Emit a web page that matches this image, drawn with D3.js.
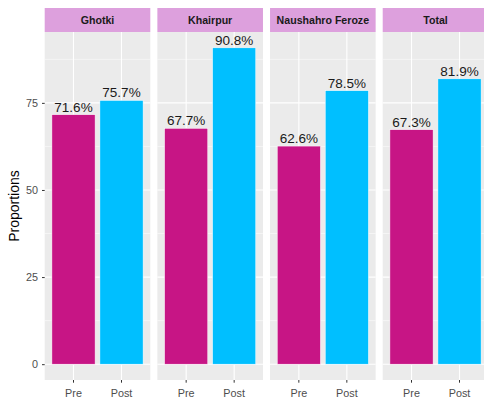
<html>
  <head>
    <meta charset="utf-8">
    <script src="https://d3js.org/d3.v7.min.js"></script>
    <style>
      body { margin: 0; background: #fff; }
      text { font-family: "Liberation Sans", Arial, sans-serif; }
    </style>
  </head>
  <body>
    <div id="my_dataviz"></div>
  </body>

  <script>
    // data
    const sites = ["Ghotki", "Khairpur", "Naushahro Feroze", "Total"];
    const periods = ["Pre", "Post"];
    const preValues = [71.6, 67.7, 62.6, 67.3];
    const postValues = [75.7, 90.8, 78.5, 81.9];
    const yTicks = [0, 25, 50, 75];
    const yMinor = [12.5, 37.5, 62.5, 87.5];
    const colors = {Pre: "#C71585", Post: "#00BFFF"};

    const width = 484, height = 403;
    const panelTop = 32, panelBottom = 380, stripTop = 8;

    const rows = [];
    sites.forEach((s, i) => {
      rows.push({site: s, period: "Pre", value: preValues[i]});
      rows.push({site: s, period: "Post", value: postValues[i]});
    });

    const svg = d3.select("#my_dataviz")
      .append("svg")
        .attr("width", width)
        .attr("height", height);

    // facet positions
    const fx = d3.scaleBand()
      .domain(sites)
      .range([44.7, 44.7 + 4 * 105.6 + 3 * 7.07])
      .paddingInner(7.07 / 112.67);
    const pw = fx.bandwidth();

    // y: ggplot default expansion around 0..max
    const maxV = d3.max(rows, d => d.value);
    const y = d3.scaleLinear()
      .domain([-0.05 * maxV, maxV * 1.05])
      .range([panelBottom, panelTop]);

    const x = d3.scaleBand()
      .domain(periods)
      .range([0, pw])
      .paddingInner(0.1)
      .paddingOuter(0.15);

    const panels = svg.selectAll("g.panel")
      .data(sites)
      .join("g")
        .attr("class", "panel")
        .attr("transform", d => `translate(${fx(d)},0)`);

    // background
    panels.append("rect")
      .attr("x", 0).attr("y", panelTop)
      .attr("width", pw).attr("height", panelBottom - panelTop)
      .attr("fill", "#EBEBEB");

    // minor grid
    panels.selectAll("line.minor")
      .data(yMinor)
      .join("line")
        .attr("x1", 0).attr("x2", pw)
        .attr("y1", d => y(d)).attr("y2", d => y(d))
        .attr("stroke", "#fff").attr("stroke-width", 0.5);

    // major grid
    panels.selectAll("line.major")
      .data(yTicks)
      .join("line")
        .attr("x1", 0).attr("x2", pw)
        .attr("y1", d => y(d)).attr("y2", d => y(d))
        .attr("stroke", "#fff").attr("stroke-width", 1.1);

    panels.selectAll("line.vgrid")
      .data(periods)
      .join("line")
        .attr("x1", d => x(d) + x.bandwidth() / 2)
        .attr("x2", d => x(d) + x.bandwidth() / 2)
        .attr("y1", panelTop).attr("y2", panelBottom)
        .attr("stroke", "#fff").attr("stroke-width", 1.1);

    // strips
    panels.append("rect")
      .attr("x", 0).attr("y", stripTop)
      .attr("width", pw).attr("height", panelTop - stripTop)
      .attr("fill", "#DDA0DD");
    panels.append("text")
      .attr("x", pw / 2).attr("y", 24.2)
      .attr("text-anchor", "middle")
      .attr("font-size", "10.6px")
      .attr("font-weight", "bold")
      .attr("fill", "#1A1A1A")
      .text(d => d);

    // bars
    panels.selectAll("rect.bar")
      .data(s => rows.filter(r => r.site === s))
      .join("rect")
        .attr("class", "bar")
        .attr("x", d => x(d.period))
        .attr("width", x.bandwidth())
        .attr("y", d => y(d.value))
        .attr("height", d => y(0) - y(d.value))
        .attr("fill", d => colors[d.period])
        .attr("stroke", "#fff")
        .attr("stroke-width", 0.5);

    // value labels
    panels.selectAll("text.val")
      .data(s => rows.filter(r => r.site === s))
      .join("text")
        .attr("class", "val")
        .attr("x", d => x(d.period) + x.bandwidth() / 2)
        .attr("y", d => y(d.value) - 3)
        .attr("text-anchor", "middle")
        .attr("font-size", "13.5px")
        .attr("fill", "#1A1A1A")
        .text(d => d.value.toFixed(1) + "%");

    // x axis labels
    panels.selectAll("text.xlab")
      .data(periods)
      .join("text")
        .attr("x", d => x(d) + x.bandwidth() / 2)
        .attr("y", 396.5)
        .attr("text-anchor", "middle")
        .attr("font-size", "10.8px")
        .attr("fill", "#4D4D4D")
        .text(d => d);
    panels.selectAll("line.xtick")
      .data(periods)
      .join("line")
        .attr("x1", d => x(d) + x.bandwidth() / 2)
        .attr("x2", d => x(d) + x.bandwidth() / 2)
        .attr("y1", panelBottom).attr("y2", panelBottom + 2.7)
        .attr("stroke", "#333");

    // y axis
    const yAxis = svg.append("g")
      .attr("transform", `translate(${fx(sites[0])},0)`)
      .call(d3.axisLeft(y).tickValues(yTicks).tickSize(2.7).tickPadding(4));
    yAxis.select(".domain").remove();
    yAxis.selectAll(".tick line").attr("stroke", "#333");
    yAxis.selectAll(".tick text")
      .attr("font-size", "10.8px")
      .attr("font-family", "Liberation Sans, Arial, sans-serif")
      .attr("fill", "#4D4D4D");

    svg.append("text")
      .attr("transform", `translate(18.5,${(panelTop + panelBottom) / 2}) rotate(-90)`)
      .attr("text-anchor", "middle")
      .attr("font-size", "14px")
      .attr("fill", "#000")
      .text("Proportions");
  </script>
</html>
